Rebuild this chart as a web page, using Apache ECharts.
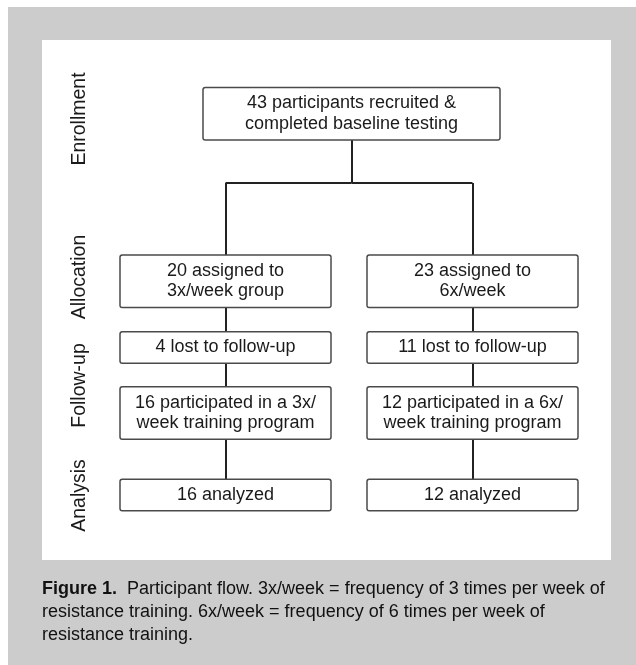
<!DOCTYPE html>
<html>
<head>
<meta charset="utf-8">
<script src="https://cdn.jsdelivr.net/npm/echarts@6/dist/echarts.min.js"></script>
<style>
html,body{margin:0;padding:0;background:#fff;}
#c{width:636px;height:665px;}
</style>
</head>
<body>
<div id="c"></div>
<script>
// ---- data ----
const stages = ['Enrollment', 'Allocation', 'Follow-up', 'Analysis'];
const enrolled = 43;
const groups = ['3x/week', '6x/week'];
const groupSuffix = ['3x/week group', '6x/week'];
const assigned = [20, 23];
const lost = [4, 11];
const participated = [16, 12];
const analyzed = [16, 12];
const captionBold = 'Figure 1.';
const captionText = ['Participant flow. 3x/week = frequency of 3 times per week of',
  'resistance training. 6x/week = frequency of 6 times per week of',
  'resistance training.'];

// ---- layout (axis units = px inside the white panel) ----
const panel = {left: 42, top: 40, width: 569, height: 520};
const colX = {center: 309.5, cols: [183.5, 430.5]};
const rowY = {enroll: 73.75, split: 143, alloc: 241.25, lost: 307.5, part: 373, anal: 455};
const boxW = 211, topBoxW = 297, tallH = 51, shortH = 30;
const LH = 20.5;
const stageLabelY = [79, 237, 345.5, 455.5];

const FONT = '"Liberation Sans", Arial, Helvetica, sans-serif';

const nodes = [];
const links = [];
function box(name, x, y, w, h, text) {
  const nLines = text.split('\n').length;
  const pv = (h - nLines * LH) / 2;
  nodes.push({name, value: [x, y], symbol: 'rect', symbolSize: [1, 1],
    itemStyle: {color: 'rgba(0,0,0,0)', borderWidth: 0},
    label: {show: true, formatter: text, width: w - 1.5, padding: [pv, 0, pv, 0],
      backgroundColor: '#ffffff', borderColor: '#4a4a4a', borderWidth: 1.5, borderRadius: 1.5,
      align: 'center'}});
}
function point(name, x, y) {
  nodes.push({name, value: [x, y], symbol: 'rect', symbolSize: [1, 1],
    itemStyle: {color: 'rgba(0,0,0,0)', borderWidth: 0}, label: {show: false}});
}
box('enroll', colX.center, rowY.enroll, topBoxW, tallH,
  enrolled + ' participants recruited &\ncompleted baseline testing');
point('split', colX.center, rowY.split);
links.push({source: 'enroll', target: 'split'});
groups.forEach((g, i) => {
  const x = colX.cols[i];
  point('split' + i, x, rowY.split);
  links.push({source: 'split', target: 'split' + i});
  box('alloc' + i, x, rowY.alloc, boxW, tallH, assigned[i] + ' assigned to\n' + groupSuffix[i]);
  box('lost' + i, x, rowY.lost, boxW, shortH, lost[i] + ' lost to follow-up');
  box('part' + i, x, rowY.part, boxW, tallH,
    participated[i] + ' participated in a ' + g.split('/')[0] + '/\nweek training program');
  box('anal' + i, x, rowY.anal, boxW, shortH, analyzed[i] + ' analyzed');
  links.push({source: 'split' + i, target: 'alloc' + i});
  links.push({source: 'alloc' + i, target: 'lost' + i});
  links.push({source: 'lost' + i, target: 'part' + i});
  links.push({source: 'part' + i, target: 'anal' + i});
});

const chart = echarts.init(document.getElementById('c'), null, {renderer: 'canvas'});
const graphics = [
  {type: 'rect', shape: {x: 8, y: 7, width: 628, height: 658}, style: {fill: '#cccccc'}, z: -10},
  {type: 'rect', shape: {x: panel.left, y: panel.top, width: panel.width, height: panel.height}, style: {fill: '#ffffff'}, z: -9}
];
stages.forEach((s, i) => {
  graphics.push({type: 'text', x: 80, y: panel.top + stageLabelY[i], rotation: Math.PI / 2,
    style: {text: s, fill: '#1a1a1a', font: '19.5px ' + FONT, textAlign: 'center', textVerticalAlign: 'middle'}});
});
graphics.push({type: 'text', left: 42, top: 578,
  style: {
    text: '{b|' + captionBold + '}  ' + captionText.join('\n'),
    rich: {b: {fontWeight: 'bold', fontSize: 18, fontFamily: FONT, fill: '#111'}},
    fill: '#111', font: '18px ' + FONT, lineHeight: 23
  }});

chart.setOption({
  animation: false,
  grid: {left: panel.left, top: panel.top, width: panel.width, height: panel.height, show: false},
  xAxis: {type: 'value', min: 0, max: panel.width, show: false},
  yAxis: {type: 'value', min: 0, max: panel.height, inverse: true, show: false},
  graphic: graphics,
  series: [{
    type: 'graph', coordinateSystem: 'cartesian2d', layout: 'none',
    data: nodes, links: links, roam: false, silent: true,
    label: {position: 'inside', color: '#1a1a1a', fontSize: 18, lineHeight: LH, fontFamily: FONT},
    lineStyle: {color: '#222222', width: 2, opacity: 1, curveness: 0},
    edgeSymbol: ['none', 'none'],
    emphasis: {disabled: true}
  }]
});
</script>
</body>
</html>
